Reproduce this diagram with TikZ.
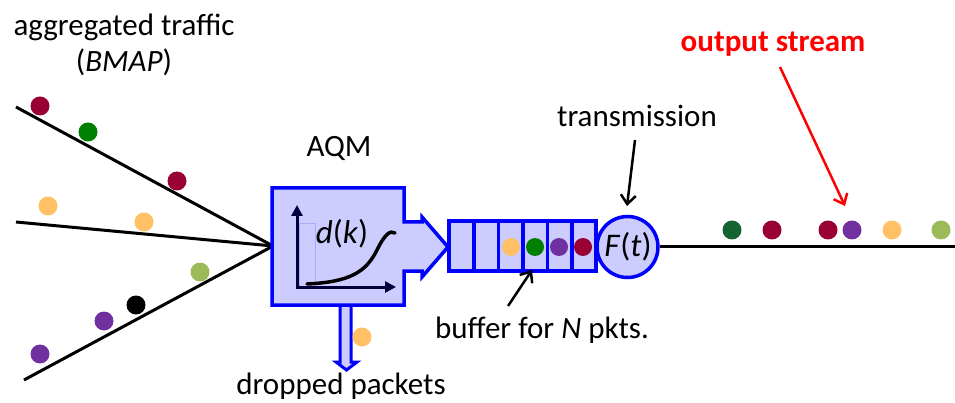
\documentclass[tikz,border=0pt]{standalone}
\usepackage{fontspec}
\setmainfont{Carlito}
\usetikzlibrary{arrows.meta}
\definecolor{lav}{RGB}{204,204,255}
\definecolor{qblue}{RGB}{0,0,255}
\definecolor{navy}{RGB}{0,0,60}
\definecolor{dred}{RGB}{153,0,51}
\definecolor{dgreen}{RGB}{0,128,0}
\definecolor{dkgreen}{RGB}{20,100,50}
\definecolor{orng}{RGB}{255,192,102}
\definecolor{lgreen}{RGB}{155,187,89}
\definecolor{purp}{RGB}{112,48,160}
\begin{document}
\begin{tikzpicture}[x=1pt,y=-1pt,
  txt/.style={font=\fontsize{31}{36}\selectfont,inner sep=0pt},
  pkt/.style={circle,fill=#1,minimum size=19pt,inner sep=0pt},
  feed/.style={line width=3pt,black},
  callout/.style={line width=2.5pt,-{Straight Barb[length=9pt,width=15pt,line width=2.5pt]}},
  blueshape/.style={draw=qblue,fill=lav,line width=3.5pt,line join=miter}]
\useasboundingbox (0,0) rectangle (955,403);
% input lines
\coordinate (conv) at (273,246);
\coordinate (in1) at (16,107);
\coordinate (in2) at (16,222);
\coordinate (in3) at (24,380);
\draw[feed] (in1) -- (conv);
\draw[feed] (in2) -- (conv);
\draw[feed] (in3) -- (conv);
% input packets
\node[pkt=dred] (p1) at (40,106) {};
\node[pkt=dgreen] (p2) at (88,132) {};
\node[pkt=dred] (p3) at (177,181) {};
\node[pkt=orng] (p4) at (48,206) {};
\node[pkt=orng] (p5) at (144,222) {};
\node[pkt=lgreen] (p6) at (200,272) {};
\node[pkt=black] (p7) at (136,305) {};
\node[pkt=purp] (p8) at (104,321) {};
\node[pkt=purp] (p9) at (40,354) {};
% dropped arrow
\draw[blueshape,line width=3pt] (340,303) -- (340,362) -- (336,362) -- (346.5,370) -- (357,362) -- (351,362) -- (351,303);
\node[pkt=orng] (pd) at (362,337) {};
% AQM box
\draw[blueshape] (272,188) -- (404,188) -- (404,222) -- (422,222) -- (422,217) -- (448,247)
  -- (422,277) -- (422,271) -- (404,271) -- (404,305) -- (272,305) -- cycle;
\coordinate (aqm) at (272,247);
\draw[draw={rgb,255:red,170;green,170;blue,255},line width=0.8pt] (299,287) rectangle (315,223);
\draw[navy,line width=3pt,-{Triangle[length=11pt,width=11pt]}] (297,288) -- (297,205);
\draw[navy,line width=3pt,-{Triangle[length=11pt,width=11pt]}] (296,287) -- (396,287);
\draw[black,line width=3.5pt,line cap=round] (307,284) .. controls (350,282) and (366,272) .. (377,250)
  .. controls (385,234) and (390,230) .. (395,233);
\node[txt,font=\fontsize{33}{36}\selectfont] (dk) at (342,234) {\textit{d}(\textit{k})};
% buffer
\node[blueshape,minimum width=147pt,minimum height=50pt,inner sep=0pt] (buf) at (522.5,246) {};
\foreach \x in {474,498.5,523,547.5,572}{\draw[qblue,line width=3.5pt] (\x,221) -- (\x,271);}
\node[pkt=orng,minimum size=18pt] (b1) at (511,247) {};
\node[pkt=dgreen,minimum size=18pt] (b2) at (535,247) {};
\node[pkt=purp,minimum size=18pt] (b3) at (559,247) {};
\node[pkt=dred,minimum size=18pt] (b4) at (583,247) {};
% transmission circle
\node[blueshape,circle,minimum size=61pt,inner sep=0pt] (Ft) at (627.5,247) {};
\node[txt,font=\fontsize{33}{36}\selectfont] (Ftl) at (628,247) {\textit{F}(\textit{t})};
\coordinate (out) at (955,247);
\draw[feed] (Ft.east) -- (out);
% output packets
\node[pkt=dkgreen] (o1) at (732,230) {};
\node[pkt=dred] (o2) at (772,230) {};
\node[pkt=dred] (o3) at (828,230) {};
\node[pkt=purp] (o4) at (852,230) {};
\node[pkt=orng] (o5) at (892,230) {};
\node[pkt=lgreen] (o6) at (941,230) {};
% labels
\node[txt] (agg) at (124,27) {aggregated traffic};
\node[txt] (bmap) at (124,62) {(\textit{BMAP})};
\node[txt] (aqml) at (339,148) {AQM};
\node[txt] (trans) at (637,116) {transmission};
\node[txt,text=red,font=\fontsize{31}{36}\selectfont\bfseries] (outl) at (773,44) {output stream};
\node[txt] (bufl) at (542,330) {buffer for \textit{N} pkts.};
\node[txt] (drop) at (341,386) {dropped packets};
% callouts
\coordinate (tA) at (635,140);
\coordinate (tB) at (627,206);
\draw[callout] (tA) -- (tB);
\coordinate (rA) at (780,67);
\coordinate (rB) at (845,206);
\draw[callout,red] (rA) -- (rB);
\coordinate (bA) at (508,306);
\coordinate (bB) at (532,270);
\draw[callout] (bA) -- (bB);
\end{tikzpicture}
\end{document}
